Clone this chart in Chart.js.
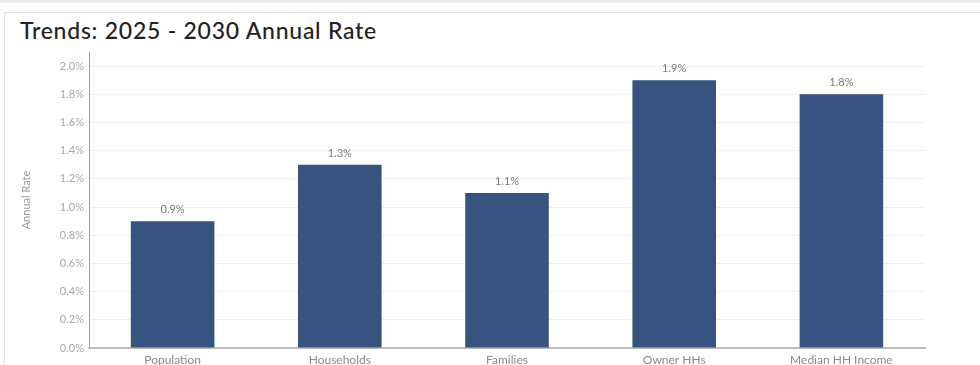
<!DOCTYPE html>
<html>
<head>
<meta charset="utf-8">
<script src="https://cdn.jsdelivr.net/npm/chart.js@4.4.1/dist/chart.umd.min.js"></script>
<style>
    body { margin: 0; background: #fff; font-family: Lato, sans-serif; }
    .topstrip { position: absolute; left: 0; top: 0; width: 980px; height: 3px; background: #eeeeee; }
    .card { position: absolute; left: 4px; top: 12px; width: 990px; height: 370px; border: 1px solid #e3e3e3; box-sizing: border-box; }
    h1 { position: absolute; left: 20px; top: 16px; margin: 0; font-size: 23px; font-weight: 500; color: #222; letter-spacing: 0.75px; }
    .wrap { position: absolute; left: 0; top: 0; width: 980px; height: 365px; }
</style>
</head>
<body>
<div class="topstrip"></div>
<div class="card"></div>
<h1>Trends: 2025 - 2030 Annual Rate</h1>
<div class="wrap"><canvas id="trend-chart"></canvas></div>
<script>
// Chart data
const categories = ['Population', 'Households', 'Families', 'Owner HHs', 'Median HH Income'];
const annualRates = [0.9, 1.3, 1.1, 1.9, 1.8];
const yTickValues = [0, 0.2, 0.4, 0.6, 0.8, 1.0, 1.2, 1.4, 1.6, 1.8, 2.0];

const barColor = '#36547f';

/**
 * Draw the value above every bar
 */
const barValueLabels = {
    id: 'barValueLabels',
    afterDatasetsDraw(chart) {
        const ctx = chart.ctx;
        const meta = chart.getDatasetMeta(0);
        ctx.save();
        ctx.font = '11px Lato, sans-serif';
        ctx.fillStyle = '#7a7a7a';
        ctx.textAlign = 'center';
        ctx.textBaseline = 'bottom';
        meta.data.forEach((bar, i) => {
            ctx.fillText(annualRates[i].toFixed(1) + '%', bar.x, bar.y - 6);
        });
        ctx.restore();
    }
};

const context = document.getElementById('trend-chart').getContext('2d');

new Chart(context, {
    type: 'bar',
    data: {
        labels: categories,
        datasets: [{
            label: 'Annual Rate',
            data: annualRates,
            backgroundColor: barColor,
            borderWidth: 0,
            barPercentage: 0.5,
            categoryPercentage: 1.0
        }]
    },
    options: {
        responsive: true,
        maintainAspectRatio: false,
        animation: false,
        layout: {
            padding: { left: 20, right: 55, top: 52, bottom: 0 }
        },
        plugins: {
            legend: { display: false },
            tooltip: { enabled: false }
        },
        scales: {
            y: {
                min: 0,
                max: 2.1,
                afterBuildTicks: scale => {
                    scale.ticks = yTickValues.map(v => ({ value: v }));
                },
                afterFit: scale => { scale.width = 69; },
                ticks: {
                    color: '#a8a8a8',
                    font: { family: 'Lato', size: 11 },
                    padding: 5,
                    callback: v => Number(v).toFixed(1) + '%'
                },
                grid: {
                    color: '#efefef',
                    drawTicks: false
                },
                border: { color: '#9a9a9a', width: 1 },
                title: {
                    display: true,
                    text: 'Annual Rate',
                    color: '#9a9a9a',
                    font: { family: 'Lato', size: 11 },
                    padding: { top: 0, bottom: 0 }
                }
            },
            x: {
                afterFit: scale => { scale.height = 17; },
                ticks: {
                    color: '#8a8a8a',
                    font: { family: 'Lato', size: 12 },
                    padding: 5
                },
                grid: { display: false, drawTicks: false },
                border: { color: '#bdbdbd', width: 2 }
            }
        }
    },
    plugins: [barValueLabels]
});
</script>
</body>
</html>
